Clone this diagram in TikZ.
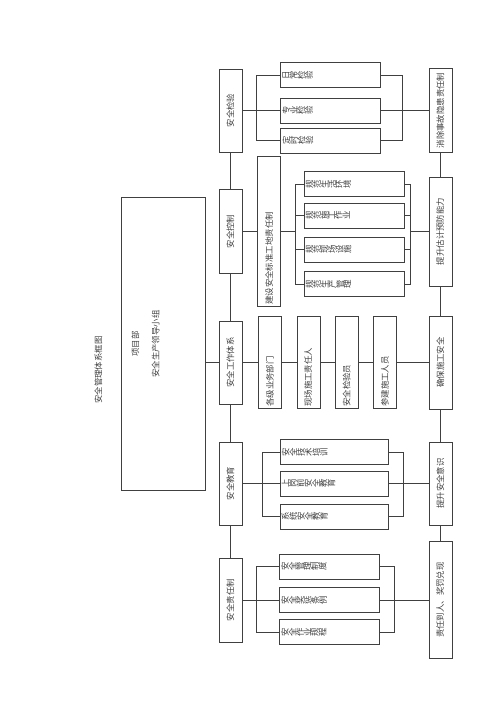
\documentclass[tikz,border=0pt]{standalone}
\usepackage{fontspec}
\setmainfont{Noto Sans CJK SC}
\usepackage{tikz}

\newcommand{\vtxt}[1]{\rotatebox{90}{#1}}
\newcommand{\vbot}[2]{\rotatebox{90}{\makebox[#1][l]{#2}}}
\ExplSyntaxOn
\NewDocumentCommand{\hchars}{m}{\tl_map_inline:nn {#1} {\rotatebox{90}{##1}}}
\ExplSyntaxOff

\begin{document}
\begin{tikzpicture}[
  x=1.19pt, y=-1.19pt,
  color=black!75, line width=0.6pt,
  font=\fontsize{10}{12}\selectfont,
  col/.style={draw, minimum width=27.4pt, minimum height=99pt, inner sep=1pt},
  wide/.style={draw, minimum height=29.75pt, inner xsep=2pt, inner ysep=1pt, text width=#1, align=left}
]
\useasboundingbox (0,0) rectangle (500,707);

\node (title) at (98.3,370) {\vtxt{安全管理体系框图}};
\node[draw, minimum width=99.1pt, minimum height=349.5pt] (xmb) at (163.3,343.8) {};
\node (xmt) at (146.7,344) {\vtxt{\begin{tabular}{@{}c@{}}项目部\\[12pt]安全生产领导小组\end{tabular}}};

\node[col] (jianyan) at (230.5,110.5) {\vtxt{安全检验}};
\node[col, minimum height=100pt] (kongzhi) at (230.5,231.5) {\vtxt{安全控制}};
\node[col] (tixi)    at (230.5,362.5) {\vtxt{安全工作体系}};
\node[col] (jiaoyu)  at (230.5,483.5) {\vtxt{安全教育}};
\node[col, minimum height=100pt] (zeren) at (230.5,600) {\vtxt{安全责任制}};

\node[col, minimum height=100pt]   (xcyh) at (440.3,110.5) {\vtxt{消除事故隐患责任制}};
\node[col, minimum height=129.4pt] (tsyf) at (440.3,231.5) {\vtxt{提升估计预防能力}};
\node[col, minimum height=110.2pt] (qb)   at (440.3,362.5) {\vtxt{确保施工安全}};
\node[col, minimum height=99.2pt]  (tsyx) at (440.3,483.5) {\vtxt{提升安全意识}};
\node[col, minimum height=139.6pt] (zrdr) at (440.3,600)   {\vtxt{责任到人、奖罚兑现}};

\node[wide=115pt] (rc) at (330.7,75.2)  {\hchars{日常检验}};
\node[wide=115pt] (zy) at (330.7,110.5) {\hchars{专业检验}};
\node[wide=115pt] (ds) at (330.7,140.5) {\hchars{定时检验}};
\coordinate (aL) at (256.7,110.5);
\coordinate (aR) at (402,110.5);

\node[col, minimum height=178.5pt] (bz) at (269.2,231.5) {\vbot{174pt}{建设安全标准工地责任制}};
\node[wide=115pt] (gf1) at (354,184.2) {\hchars{规范生活环境}};
\node[wide=115pt] (gf2) at (354,215.5) {\hchars{规范施工作业}};
\node[wide=115pt] (gf3) at (354,249.5) {\hchars{规范现场设施}};
\node[wide=115pt] (gf4) at (354,284.2) {\hchars{规范生产管理}};
\coordinate (bL) at (295,231.5);
\coordinate (bR) at (410.7,231.5);

\node[col, minimum height=109.5pt] (gj)  at (270,362.5)   {\vbot{105pt}{各级业务部门}};
\node[col, minimum height=109.5pt] (xcr) at (308.3,362.5) {\vbot{105pt}{现场施工责任人}};
\node[col, minimum height=109.5pt] (jyy) at (346.7,362.5) {\vbot{105pt}{安全检验员}};
\node[col, minimum height=109.5pt] (cj)  at (385,362.5)   {\vbot{105pt}{参建施工人员}};

\node[wide=124.9pt] (js) at (334.2,451.8) {\hchars{安全技术培训}};
\node[wide=124.9pt] (sg) at (334.2,483.5) {\hchars{上岗前安全教育}};
\node[wide=124.9pt] (xt) at (334.2,516.7) {\hchars{系统安全教育}};
\coordinate (dL) at (262.7,483.5);
\coordinate (dR) at (403.3,483.5);

\node[wide=115pt] (gl)   at (329.3,566.5) {\hchars{安全管理制度}};
\node[wide=115pt] (jc)   at (329.3,600)   {\hchars{安全奖惩条例}};
\node[wide=115pt] (zygc) at (329.3,632.2) {\hchars{安全作业规程}};
\coordinate (eL) at (256,600);
\coordinate (eR) at (394,600);

\draw (jianyan) -- (kongzhi) -- (tixi) -- (jiaoyu) -- (zeren);
\draw (xcyh) -- (tsyf) -- (qb) -- (tsyx) -- (zrdr);
\draw (tixi.west -| xmb.east) -- (tixi);

\draw (jianyan) -- (zy) -- (xcyh);
\draw (rc.west) -- (rc.west -| aL) -- (ds.west -| aL) -- (ds.west);
\draw (rc.east) -- (rc.east -| aR) -- (ds.east -| aR) -- (ds.east);

\draw (kongzhi) -- (bz) -- (bL);
\draw (gf1.west) -- (gf1.west -| bL) -- (gf4.west -| bL) -- (gf4.west);
\draw (gf2.west) -- (gf2.west -| bL);
\draw (gf3.west) -- (gf3.west -| bL);
\draw (gf1.east) -- (gf1.east -| bR) -- (gf4.east -| bR) -- (gf4.east);
\draw (gf2.east) -- (gf2.east -| bR);
\draw (gf3.east) -- (gf3.east -| bR);
\draw (bR) -- (tsyf);

\draw (tixi) -- (gj) -- (xcr) -- (jyy) -- (cj) -- (qb);

\draw (jiaoyu) -- (sg) -- (tsyx);
\draw (js.west) -- (js.west -| dL) -- (xt.west -| dL) -- (xt.west);
\draw (js.east) -- (js.east -| dR) -- (xt.east -| dR) -- (xt.east);

\draw (zeren) -- (jc) -- (zrdr);
\draw (gl.west) -- (gl.west -| eL) -- (zygc.west -| eL) -- (zygc.west);
\draw (gl.east) -- (gl.east -| eR) -- (zygc.east -| eR) -- (zygc.east);
\end{tikzpicture}
\end{document}
